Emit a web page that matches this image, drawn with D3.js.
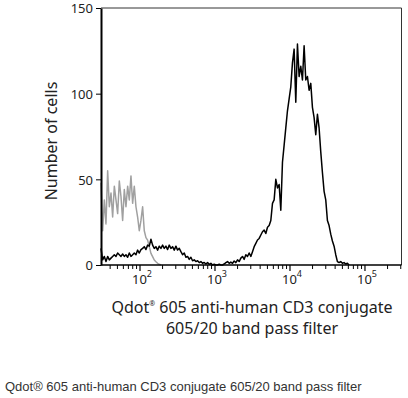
<!DOCTYPE html>
<html>
<head>
<meta charset="utf-8">
<script src="https://cdn.jsdelivr.net/npm/d3@7"></script>
<style>
    body { margin: 0; background: #fff; }
    #chart { width: 408px; height: 398px; }
    .tick-label { font-family: "Noto Sans", sans-serif; font-size: 13px; fill: #222; }
    .axis-label { font-family: "Noto Sans", sans-serif; font-size: 16px; fill: #222; }
    .caption { font-family: "Liberation Sans", Arial, sans-serif; font-size: 13px; fill: #333; }
</style>
</head>
<body>
<div id="chart"></div>
<script>
"use strict"

// histogram channels: log10 intensity of first channel and channel width
const channelStart = 1.48
const channelWidth = 0.0222

// isotype control (grey) counts per channel
const controlCounts = [
    48, 20, 38, 24, 55, 34, 42, 28, 46, 38, 30, 49, 40, 26, 44, 34, 46, 38, 52, 36,
    46, 34, 28, 20, 26, 34, 20, 16, 14.5, 10.7, 6.8, 4.9, 2.9, 1.9, 1, 0.4, 0
]

// CD3 stained sample (black) counts per channel
const stainedCounts = [
    9.7, 3, 5, 2, 5, 3, 4, 5, 6, 5, 7, 6, 5, 6.4, 5, 6, 4.5, 7, 5, 6,
    7, 6, 8.7, 7, 9, 9.7, 10.7, 9, 11.6, 11, 15, 11.6, 9.7, 10.7, 8.7, 11, 9.7, 11.6, 9.7, 11,
    9, 11.6, 9.7, 10.7, 8.7, 11, 8.7, 9.7, 7.8, 6, 7, 4.5, 5, 3.3, 4.5, 2.5, 3, 2, 2.5, 1.4,
    2, 1, 1.5, 0.6, 1.4, 0.4, 1, 0, 0.4, 0, 0, 0.4, 0, 0, 0.6, 1.4, 2, 1, 1.7, 1,
    2.3, 1.4, 3, 2, 4, 5, 3.3, 6, 5, 7, 5, 7.8, 10.7, 12.6, 14.6, 15.5, 17.5, 19.4, 20.4, 18.4,
    22, 23, 26, 36, 38, 50, 45, 47, 32, 60, 70, 80, 90, 97, 104, 118, 126, 95, 129, 110,
    116, 108, 128, 108, 110, 102, 106, 92, 86, 76, 88, 80, 66, 54, 43, 38, 26, 23, 18, 14,
    11, 6, 2, 1.4, 2, 1, 1.4, 0.6, 1, 0
]

const yTicks = [0, 50, 100, 150]
const xDecades = [2, 3, 4, 5]
const yLabel = 'Number of cells'
const xTitle = ['Qdot', '®', ' 605 anti-human CD3 conjugate']
const xTitle2 = '605/20 band pass filter'
const caption = 'Qdot® 605 anti-human CD3 conjugate 605/20 band pass filter'

const flowHist = (function() {

    function draw(id) {
        const chart = { w: 408, h: 398 }
        const frame = { l: 101, r: 401.5, t: 8, b: 265 }

        const x = d3.scaleLog()
                    .domain([Math.pow(10, 1.48), Math.pow(10, 5.487)])
                    .range([frame.l, frame.r])
        const y = d3.scaleLinear()
                    .domain([0, 150])
                    .range([frame.b, frame.t])

        const svg = d3.select(id)
                    .append("svg")
                        .attr("width", chart.w)
                        .attr("height", chart.h)
                        .attr("viewBox", `0 0 ${ chart.w } ${ chart.h }`)

        // histogram lines
        const toPoints = counts => counts.map((c, i) => ({ v: Math.pow(10, channelStart + i * channelWidth), c: c }))
        const line = d3.line()
                        .x(d => x(d.v))
                        .y(d => y(d.c))

        svg.append("path")
            .datum(toPoints(controlCounts))
            .attr("d", line)
            .attr("fill", "none")
            .attr("stroke", "#a0a0a0")
            .attr("stroke-width", 1.5)
            .attr("stroke-linejoin", "round")

        svg.append("path")
            .datum(toPoints(stainedCounts))
            .attr("d", line)
            .attr("fill", "none")
            .attr("stroke", "#000")
            .attr("stroke-width", 1.5)
            .attr("stroke-linejoin", "round")

        // frame top + right
        svg.append("path")
            .attr("d", `M${ frame.l },${ frame.t }H${ frame.r }V${ frame.b }`)
            .attr("fill", "none")
            .attr("stroke", "#333")
            .attr("stroke-width", 1)

        // x-axis with log minor ticks
        const minors = []
        xDecades.concat([1]).forEach(e => {
            for (let m = 2; m <= 9; m++) {
                const v = m * Math.pow(10, e)
                if (v > x.domain()[0] && v < x.domain()[1]) minors.push(v)
            }
        })
        const xAx = svg.append("g")
                    .attr("class", "axis x-axis")
                    .attr("transform", `translate(0, ${ frame.b })`)
        xAx.append("line")
            .attr("x1", frame.l).attr("x2", frame.r)
            .attr("stroke", "#000").attr("stroke-width", 1.5)
        xAx.selectAll(".minor")
            .data(minors)
            .enter().append("line")
                .attr("class", "minor")
                .attr("x1", d => x(d)).attr("x2", d => x(d))
                .attr("y1", 0).attr("y2", 4)
                .attr("stroke", "#000").attr("stroke-width", 1)
        const major = xAx.selectAll(".major")
            .data(xDecades)
            .enter().append("g")
                .attr("class", "major")
                .attr("transform", d => `translate(${ x(Math.pow(10, d)) }, 0)`)
        major.append("line")
            .attr("y1", 0).attr("y2", 6)
            .attr("stroke", "#000").attr("stroke-width", 1.2)
        const lbl = major.append("text")
            .attr("class", "tick-label")
            .attr("text-anchor", "middle")
            .attr("x", 2)
            .attr("y", 19)
        lbl.append("tspan").text("10")
        lbl.append("tspan")
            .text(d => d)
            .attr("font-size", "9px")
            .attr("dy", -7)

        // y-axis
        svg.append("g")
            .attr("class", "axis y-axis")
            .attr("transform", `translate(${ frame.l }, 0)`)
            .call(d3.axisLeft(y).tickValues(yTicks).tickSize(5).tickPadding(3).tickSizeOuter(0))
            .call(g => g.select(".domain").attr("stroke-width", 2))
            .call(g => g.selectAll(".tick text").attr("class", "tick-label").attr("fill", null).attr("dy", "0.38em"))

        // y-axis label
        svg.append("text")
            .text(yLabel)
            .attr("class", "axis-label")
            .attr("text-anchor", "middle")
            .attr("transform", `translate(57, 141) rotate(-90)`)

        // x-axis title, two lines
        const t1 = svg.append("text")
            .attr("class", "axis-label")
            .attr("text-anchor", "middle")
            .attr("x", 252).attr("y", 313)
        t1.append("tspan").text(xTitle[0])
        t1.append("tspan").text(xTitle[1]).attr("font-size", "7px").attr("dy", -7)
        t1.append("tspan").text(xTitle[2]).attr("dy", 7)
        svg.append("text")
            .text(xTitle2)
            .attr("class", "axis-label")
            .attr("text-anchor", "middle")
            .attr("x", 252).attr("y", 334)

        // caption under the figure
        svg.append("text")
            .text(caption)
            .attr("class", "caption")
            .attr("x", 5).attr("y", 391)
    }

    return { draw: draw }
}())

flowHist.draw("#chart")
</script>
</body>
</html>
